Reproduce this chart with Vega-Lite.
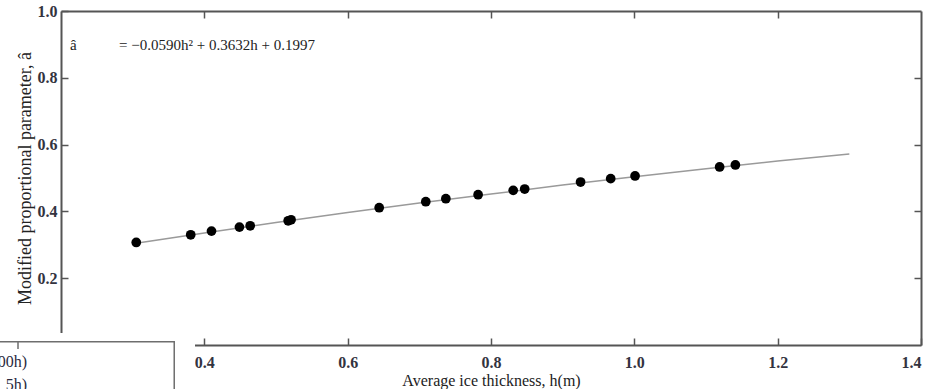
{
  "$schema": "https://vega.github.io/schema/vega-lite/v6.json",
  "autosize": {"type": "none"},
  "padding": {"left": 61, "top": 11, "right": 10, "bottom": 44},
  "width": 860,
  "height": 334,
  "background": "white",
  "config": {
    "view": {"stroke": null},
    "font": "Liberation Serif",
    "axis": {
      "grid": false,
      "domainColor": "#555555",
      "domainWidth": 2,
      "tickColor": "#555555",
      "tickWidth": 1.5,
      "tickSize": -7,
      "labelFont": "Liberation Serif",
      "labelFontSize": 16,
      "labelFontWeight": "bold",
      "labelColor": "#333340",
      "titleFont": "Liberation Serif",
      "titleFontSize": 17,
      "titleFontWeight": "normal",
      "titleColor": "#222222"
    }
  },
  "datasets": {
    "fit": [
      {"h": 0.3, "a": 0.303}, {"h": 0.4, "a": 0.335}, {"h": 0.5, "a": 0.367},
      {"h": 0.6, "a": 0.397}, {"h": 0.7, "a": 0.425}, {"h": 0.8, "a": 0.452},
      {"h": 0.9, "a": 0.479}, {"h": 1.0, "a": 0.504}, {"h": 1.1, "a": 0.528},
      {"h": 1.2, "a": 0.551}, {"h": 1.3, "a": 0.572}
    ],
    "obs": [
      {"h": 0.305, "a": 0.307}, {"h": 0.381, "a": 0.330}, {"h": 0.410, "a": 0.341},
      {"h": 0.449, "a": 0.353}, {"h": 0.464, "a": 0.357}, {"h": 0.517, "a": 0.372},
      {"h": 0.521, "a": 0.375}, {"h": 0.644, "a": 0.411}, {"h": 0.709, "a": 0.429},
      {"h": 0.737, "a": 0.438}, {"h": 0.782, "a": 0.450}, {"h": 0.831, "a": 0.463},
      {"h": 0.847, "a": 0.467}, {"h": 0.925, "a": 0.488}, {"h": 0.967, "a": 0.498},
      {"h": 1.001, "a": 0.506}, {"h": 1.119, "a": 0.533}, {"h": 1.141, "a": 0.539}
    ],
    "cover": [{"x1": 0.09, "x2": 0.387, "y1": -0.3, "y2": 0.036}],
    "box": [{"x1": 0.09, "x2": 0.358, "y1": -0.3, "y2": 0.0099}],
    "boxtick": [{"x": 0.14, "y1": 0.0099, "y2": -0.012}],
    "boxtext": [{"x": 0.1526, "y": -0.051, "t": "00h)"}, {"x": 0.1526, "y": -0.12, "t": "5h)"}],
    "eq": [{"x": 0.2126, "y": 0.898, "t": "â"}, {"x": 0.281, "y": 0.898, "t": "= −0.0590h² + 0.3632h + 0.1997"}]
  },
  "layer": [
    {
      "data": {"name": "fit"},
      "mark": {"type": "line", "color": "#9a9a9a", "strokeWidth": 1.5},
      "encoding": {
        "x": {"field": "h", "type": "quantitative", "scale": {"domain": [0.2, 1.4], "nice": false, "zero": false},
              "axis": {"orient": "top", "values": [0.4, 0.6, 0.8, 1.0, 1.2], "labels": false, "title": null}},
        "y": {"field": "a", "type": "quantitative", "scale": {"domain": [0, 1], "nice": false},
              "axis": {"orient": "right", "values": [0.2, 0.4, 0.6, 0.8], "labels": false, "title": null}}
      }
    },
    {
      "data": {"name": "obs"},
      "mark": {"type": "circle", "color": "#000000", "opacity": 1, "size": 95},
      "encoding": {
        "x": {"field": "h", "type": "quantitative", "scale": {"domain": [0.2, 1.4], "nice": false, "zero": false},
              "axis": {"orient": "bottom", "values": [0.4, 0.6, 0.8, 1.0, 1.2, 1.4], "format": ".1f", "labelPadding": 16, "titlePadding": 2, "titleFontSize": 16, "title": "Average ice thickness, h(m)"}},
        "y": {"field": "a", "type": "quantitative", "scale": {"domain": [0, 1], "nice": false},
              "axis": {"orient": "left", "values": [0.2, 0.4, 0.6, 0.8, 1.0], "format": ".1f", "labelPadding": 11, "titlePadding": 3, "titleFontSize": 18, "title": "Modified proportional parameter, â"}}
      }
    },
    {
      "data": {"name": "cover"},
      "mark": {"type": "rect", "color": "white"},
      "encoding": {
        "x": {"field": "x1", "type": "quantitative", "scale": {"domain": [0.2, 1.4], "nice": false, "zero": false}, "axis": null},
        "x2": {"field": "x2"},
        "y": {"field": "y1", "type": "quantitative", "scale": {"domain": [0, 1], "nice": false}, "axis": null},
        "y2": {"field": "y2"}
      }
    },
    {
      "data": {"name": "box"},
      "mark": {"type": "rect", "fill": null, "fillOpacity": 0, "stroke": "#6e6e6e", "strokeWidth": 1.5},
      "encoding": {
        "x": {"field": "x1", "type": "quantitative", "scale": {"domain": [0.2, 1.4], "nice": false, "zero": false}, "axis": null},
        "x2": {"field": "x2"},
        "y": {"field": "y1", "type": "quantitative", "scale": {"domain": [0, 1], "nice": false}, "axis": null},
        "y2": {"field": "y2"}
      }
    },
    {
      "data": {"name": "boxtick"},
      "mark": {"type": "rule", "color": "#6e6e6e", "strokeWidth": 1.5},
      "encoding": {
        "x": {"field": "x", "type": "quantitative", "scale": {"domain": [0.2, 1.4], "nice": false, "zero": false}, "axis": null},
        "y": {"field": "y1", "type": "quantitative", "scale": {"domain": [0, 1], "nice": false}, "axis": null},
        "y2": {"field": "y2"}
      }
    },
    {
      "data": {"name": "boxtext"},
      "mark": {"type": "text", "align": "right", "baseline": "middle", "font": "Liberation Serif", "fontSize": 16, "color": "#2a2a40"},
      "encoding": {
        "x": {"field": "x", "type": "quantitative", "scale": {"domain": [0.2, 1.4], "nice": false, "zero": false}, "axis": null},
        "y": {"field": "y", "type": "quantitative", "scale": {"domain": [0, 1], "nice": false}, "axis": null},
        "text": {"field": "t"}
      }
    },
    {
      "data": {"name": "eq"},
      "mark": {"type": "text", "align": "left", "baseline": "middle", "font": "Liberation Serif", "fontSize": 15, "color": "#222222"},
      "encoding": {
        "x": {"field": "x", "type": "quantitative", "scale": {"domain": [0.2, 1.4], "nice": false, "zero": false}, "axis": null},
        "y": {"field": "y", "type": "quantitative", "scale": {"domain": [0, 1], "nice": false}, "axis": null},
        "text": {"field": "t"}
      }
    }
  ],
  "resolve": {"axis": {"x": "independent", "y": "independent"}}
}
